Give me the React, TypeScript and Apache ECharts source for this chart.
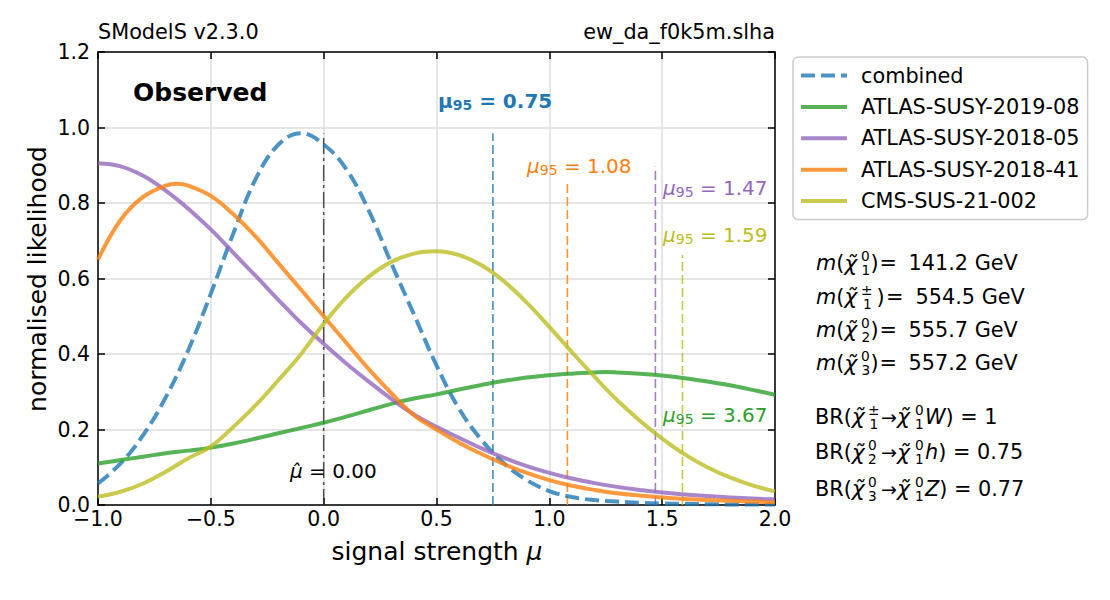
import React, { useEffect, useRef } from "react";
import * as echarts from "echarts";

// ---------- data ----------
const muGrid = [
  -1.0, -0.9, -0.8, -0.7, -0.6, -0.5, -0.4, -0.3, -0.2, -0.1, 0.0,
  0.1, 0.2, 0.3, 0.4, 0.5, 0.6, 0.7, 0.8, 0.9, 1.0,
  1.1, 1.2, 1.3, 1.4, 1.5, 1.6, 1.7, 1.8, 1.9, 2.0,
];

const combined = [
  0.057, 0.11, 0.185, 0.285, 0.41, 0.56, 0.72, 0.865, 0.955, 0.985, 0.955,
  0.89, 0.78, 0.64, 0.505, 0.37, 0.255, 0.172, 0.11, 0.066, 0.037,
  0.021, 0.013, 0.009, 0.006, 0.004, 0.003, 0.002, 0.0015, 0.001, 0.001,
];
const atlas201908 = [
  0.11, 0.119, 0.128, 0.137, 0.144, 0.152, 0.163, 0.176, 0.19, 0.204, 0.218,
  0.234, 0.251, 0.268, 0.282, 0.293, 0.306, 0.318, 0.329, 0.338, 0.344,
  0.348, 0.351, 0.351, 0.348, 0.343, 0.336, 0.327, 0.317, 0.305, 0.292,
];
const atlas201805 = [
  0.905, 0.897, 0.872, 0.833, 0.785, 0.73, 0.668, 0.606, 0.543, 0.482, 0.427,
  0.375, 0.327, 0.281, 0.24, 0.207, 0.178, 0.15, 0.125, 0.103, 0.085,
  0.07, 0.058, 0.048, 0.04, 0.033, 0.028, 0.024, 0.02, 0.017, 0.015,
];
const atlas201841 = [
  0.65, 0.755, 0.816, 0.846, 0.846, 0.819, 0.77, 0.71, 0.64, 0.57, 0.5,
  0.43, 0.36, 0.296, 0.238, 0.2, 0.165, 0.135, 0.108, 0.085, 0.066,
  0.051, 0.04, 0.031, 0.025, 0.02, 0.016, 0.013, 0.011, 0.009, 0.007,
];
const cms21002 = [
  0.022, 0.035, 0.057, 0.088, 0.124, 0.155, 0.207, 0.265, 0.331, 0.4, 0.48,
  0.55, 0.605, 0.644, 0.666, 0.672, 0.662, 0.635, 0.592, 0.536, 0.472,
  0.405, 0.34, 0.278, 0.224, 0.176, 0.134, 0.1, 0.073, 0.052, 0.036,
];

// maxima read between grid points: [mu, likelihood] per curve (null = none)
const combinedPeak: number[] | null = null;
const atlas201908Peak = [1.25, 0.352];
const atlas201805Peak: number[] | null = null;
const atlas201841Peak = [-0.65, 0.851];
const cms21002Peak: number[] | null = null;

const seriesNames = [
  "combined",
  "ATLAS-SUSY-2019-08",
  "ATLAS-SUSY-2018-05",
  "ATLAS-SUSY-2018-41",
  "CMS-SUS-21-002",
];
const seriesColors = ["#1f77b4", "#2ca02c", "#9467bd", "#ff7f0e", "#bcbd22"];
const curves = [combined, atlas201908, atlas201805, atlas201841, cms21002];
const peaks = [combinedPeak, atlas201908Peak, atlas201805Peak, atlas201841Peak, cms21002Peak];

// 95% upper limits (mu95) and heights of their marker lines
const mu95 = [0.75, 3.67, 1.47, 1.08, 1.59];
const mu95LineTop = [0.984, 0, 0.896, 0.852, 0.662];
const muHat = 0.0;
const muHatTop = 0.984;

const xTickValues = [-1.0, -0.5, 0.0, 0.5, 1.0, 1.5, 2.0];
const xTickLabels = ["\u22121.0", "\u22120.5", "0.0", "0.5", "1.0", "1.5", "2.0"];
const yTickValues = [0.0, 0.2, 0.4, 0.6, 0.8, 1.0, 1.2];
const yTickLabels = ["0.0", "0.2", "0.4", "0.6", "0.8", "1.0", "1.2"];

const masses = ["141.2", "554.5", "555.7", "557.2"];
const branchings = ["1", "0.75", "0.77"];

// ---------- helpers ----------
const F = "DejaVu Sans";
const FS = 20.8;
const SS = 13.7;

function lookupLabel(v: number, vals: number[], labels: string[]) {
  let best = 0;
  for (let i = 0; i < vals.length; i++) {
    if (Math.abs(vals[i] - v) < Math.abs(vals[best] - v)) best = i;
  }
  return labels[best];
}

function curveData(values: number[], peak: number[] | null) {
  const pts = muGrid.map((m, j) => [m, values[j]]);
  if (peak) pts.push([peak[0], peak[1]]);
  pts.sort((a, b) => a[0] - b[0]);
  return pts;
}

function txt(x: number, y: number, text: string, extra: any = {}, rot = 0) {
  const align = extra.align || "left";
  return {
    type: "text",
    x,
    y,
    rotation: rot,
    silent: true,
    z: 100,
    style: {
      text,
      x: 0,
      y: 0,
      fontFamily: F,
      fontSize: FS,
      fill: "#000",
      align,
      textAlign: align,
      verticalAlign: "middle",
      textVerticalAlign: "middle",
      ...extra,
    },
  };
}

const mathRich = {
  n: { fontFamily: F, fontSize: FS, fill: "#000", lineHeight: 24 },
  i: { fontFamily: F, fontSize: FS, fontStyle: "italic", fill: "#000", lineHeight: 24 },
  c: { fontFamily: F, fontSize: 22, fontStyle: "italic", fill: "#000", lineHeight: 24 },
};

function mathRichText(x: number, y: number, text: string) {
  return txt(x, y, text, { rich: mathRich });
}

function mathPiece(x: number, y: number, text: string, kind: string) {
  let fontSize = FS;
  let dy = 0;
  let lineHeight: number | undefined = undefined;
  if (kind === "p") {
    fontSize = SS;
    dy = -7;
    lineHeight = 12;
  }
  if (kind === "b") {
    fontSize = SS;
    dy = 7;
    lineHeight = 12;
  }
  if (kind === "a") fontSize = 19;
  const extra: any = { fontSize };
  if (lineHeight) extra.lineHeight = lineHeight;
  return txt(x, y + dy, text, extra);
}

const CHI = "\u03c7\u0303";

function muLabel(x: number, y: number, value: string, color: string, bold = false) {
  const w = bold ? "bold" : "normal";
  return txt(x, y, `{m|\u03bc}{s|95}{n| = ${value}}`, {
    fill: color,
    rich: {
      m: {
        fontFamily: F,
        fontSize: 20,
        fontStyle: bold ? "normal" : "italic",
        fontWeight: w,
        fill: color,
        lineHeight: 22,
      },
      s: {
        fontFamily: F,
        fontSize: 14,
        fontWeight: w,
        fill: color,
        lineHeight: 14,
        verticalAlign: "bottom",
      },
      n: { fontFamily: F, fontSize: 20, fontWeight: w, fill: color, lineHeight: 22 },
    },
  });
}

function buildGraphics() {
  const g: any[] = [];
  // headers
  g.push(txt(98, 32, "SModelS v2.3.0"));
  g.push(txt(775, 32, "ew_da_f0k5m.slha", { align: "right" }));
  g.push(txt(133, 92, "Observed", { fontSize: 25, fontWeight: "bold" }));
  // axis names
  g.push(
    txt(437, 551, "{n|signal strength }{i|\u03bc}", {
      align: "center",
      rich: {
        n: { fontFamily: F, fontSize: 25, fill: "#000" },
        i: { fontFamily: F, fontSize: 25, fontStyle: "italic", fill: "#000" },
      },
    })
  );
  g.push(txt(37, 279, "normalised likelihood", { align: "center", fontSize: 25 }, Math.PI / 2));

  // mu95 labels
  g.push(muLabel(438, 101, mu95[0].toFixed(2), "#1f77b4", true));
  g.push(muLabel(527, 166, mu95[3].toFixed(2), "#ff7f0e"));
  g.push(muLabel(663, 188, mu95[2].toFixed(2), "#9467bd"));
  g.push(muLabel(663, 234.5, mu95[4].toFixed(2), "#bcbd22"));
  g.push(muLabel(663, 415, mu95[1].toFixed(2), "#2ca02c"));
  // mu hat label
  g.push(
    txt(290, 470.5, `{i|\u03bc\u0302}{n| = ${muHat.toFixed(2)}}`, {
      rich: {
        i: { fontFamily: F, fontSize: 20, fontStyle: "italic", fill: "#000" },
        n: { fontFamily: F, fontSize: 20, fill: "#000" },
      },
    })
  );

  // mass lines
  const sups = [
    ["0", "1"],
    ["\u00b1", "1"],
    ["0", "2"],
    ["0", "3"],
  ];
  const massY = [263, 296.5, 329.5, 363];
  for (let i = 0; i < 4; i++) {
    const y = massY[i];
    const wide = i === 1;
    g.push(mathRichText(816, y, `{i|m}{n|(}{c|${CHI}}`));
    g.push(mathPiece(861, y, sups[i][0], "p"));
    g.push(mathPiece(wide ? 863 : 861.5, y, sups[i][1], "b"));
    g.push(mathPiece(wide ? 876.5 : 870.5, y, ")", "n"));
    g.push(mathPiece(wide ? 886 : 879.5, y, "=", "n"));
    g.push(mathPiece(wide ? 915.5 : 908.5, y, masses[i] + " GeV", "n"));
  }

  // branching ratio lines
  const brY = [416.5, 452, 488.5];
  const brFirst = [
    ["\u00b1", "1"],
    ["0", "2"],
    ["0", "3"],
  ];
  const brBoson = ["W", "h", "Z"];
  for (let i = 0; i < 3; i++) {
    const y = brY[i];
    g.push(mathRichText(815, y, `{n|BR(}{c|${CHI}}`));
    g.push(mathPiece(868, y, brFirst[i][0], "p"));
    g.push(mathPiece(i === 0 ? 869.5 : 868, y, brFirst[i][1], "b"));
    g.push(mathPiece(881, y, "\u2192", "a"));
    g.push(mathRichText(897, y, `{c|${CHI}}`));
    g.push(mathPiece(915, y, "0", "p"));
    g.push(mathPiece(915, y, "1", "b"));
    g.push(mathRichText(925, y, `{i|${brBoson[i]}}{n|) = ${branchings[i]}}`));
  }
  return g;
}

function buildOption(): any {
  const axisLine = { show: true, onZero: false, lineStyle: { color: "#000", width: 1.5 } };
  const axisTick = { show: true, inside: true, length: 7, lineStyle: { color: "#000", width: 1.5 } };
  const split = { show: true, lineStyle: { color: "#dddddd", width: 1.5 } };

  const series: any[] = [];
  // vertical mu95 marker lines (drawn below curves)
  for (let i = 0; i < curves.length; i++) {
    if (mu95[i] > 2) continue;
    series.push({
      type: "line",
      name: "lim-" + seriesNames[i],
      data: [
        [mu95[i], 0],
        [mu95[i], mu95LineTop[i]],
      ],
      symbol: "none",
      silent: true,
      lineStyle: { color: seriesColors[i], width: 1.6, type: [9, 4], opacity: 0.85 },
      z: 2,
    });
  }
  series.push({
    type: "line",
    name: "muhat",
    data: [
      [muHat, 0],
      [muHat, muHatTop],
    ],
    symbol: "none",
    silent: true,
    lineStyle: { color: "#333333", width: 1.5, type: [16, 4, 3, 4], opacity: 0.85 },
    z: 2,
  });
  // likelihood curves
  curves.forEach((c, i) => {
    series.push({
      type: "line",
      name: seriesNames[i],
      data: curveData(c, peaks[i]),
      symbol: "none",
      showSymbol: false,
      smooth: 0.4,
      silent: true,
      itemStyle: { color: seriesColors[i], opacity: 0.8 },
      lineStyle: {
        color: seriesColors[i],
        width: 4,
        opacity: 0.8,
        type: i === 0 ? [14, 6] : "solid",
      },
      z: 3,
    });
  });

  return {
    animation: false,
    backgroundColor: "#ffffff",
    textStyle: { fontFamily: F },
    grid: { left: 98, top: 52, width: 677, height: 453, containLabel: false },
    legend: {
      data: seriesNames,
      orient: "vertical",
      left: 793,
      top: 57,
      itemWidth: 46,
      itemHeight: 20,
      itemGap: 10.4,
      padding: [8, 8, 8, 6],
      backgroundColor: "#ffffff",
      borderColor: "#cccccc",
      borderWidth: 1.5,
      borderRadius: 5,
      selectedMode: false,
      itemStyle: { opacity: 0, borderWidth: 0 },
      lineStyle: { width: 4 },
      textStyle: { fontSize: FS, color: "#000", fontFamily: F, padding: [0, 0, 0, 9], lineHeight: 20 },
    },
    xAxis: [
      {
        type: "value",
        min: -1,
        max: 2,
        interval: 0.5,
        position: "bottom",
        axisLine,
        axisTick,
        splitLine: split,
        axisLabel: {
          fontSize: 20.5,
          lineHeight: 14,
          color: "#000",
          fontFamily: F,
          margin: 7,
          showMinLabel: true,
          showMaxLabel: true,
          formatter: (v: number) => lookupLabel(v, xTickValues, xTickLabels),
        },
      },
      {
        type: "value",
        min: -1,
        max: 2,
        interval: 0.5,
        position: "top",
        axisLine,
        axisTick,
        splitLine: { show: false },
        axisLabel: { show: false },
      },
    ],
    yAxis: [
      {
        type: "value",
        min: 0,
        max: 1.2,
        interval: 0.2,
        position: "left",
        axisLine,
        axisTick,
        splitLine: split,
        axisLabel: {
          fontSize: 20.5,
          lineHeight: 14,
          color: "#000",
          fontFamily: F,
          margin: 8,
          showMinLabel: true,
          showMaxLabel: true,
          formatter: (v: number) => lookupLabel(v, yTickValues, yTickLabels),
        },
      },
      {
        type: "value",
        min: 0,
        max: 1.2,
        interval: 0.2,
        position: "right",
        axisLine,
        axisTick,
        splitLine: { show: false },
        axisLabel: { show: false },
      },
    ],
    series,
    graphic: buildGraphics(),
  };
}

export default function App() {
  const ref = useRef<HTMLDivElement>(null);
  useEffect(() => {
    if (!ref.current) return;
    const chart = echarts.init(ref.current, null, { renderer: "svg" });
    chart.setOption(buildOption());
    return () => chart.dispose();
  }, []);
  return (
    <div
      ref={ref}
      style={{ position: "fixed", left: 0, top: 0, width: 1110, height: 600, background: "#fff" }}
    />
  );
}
